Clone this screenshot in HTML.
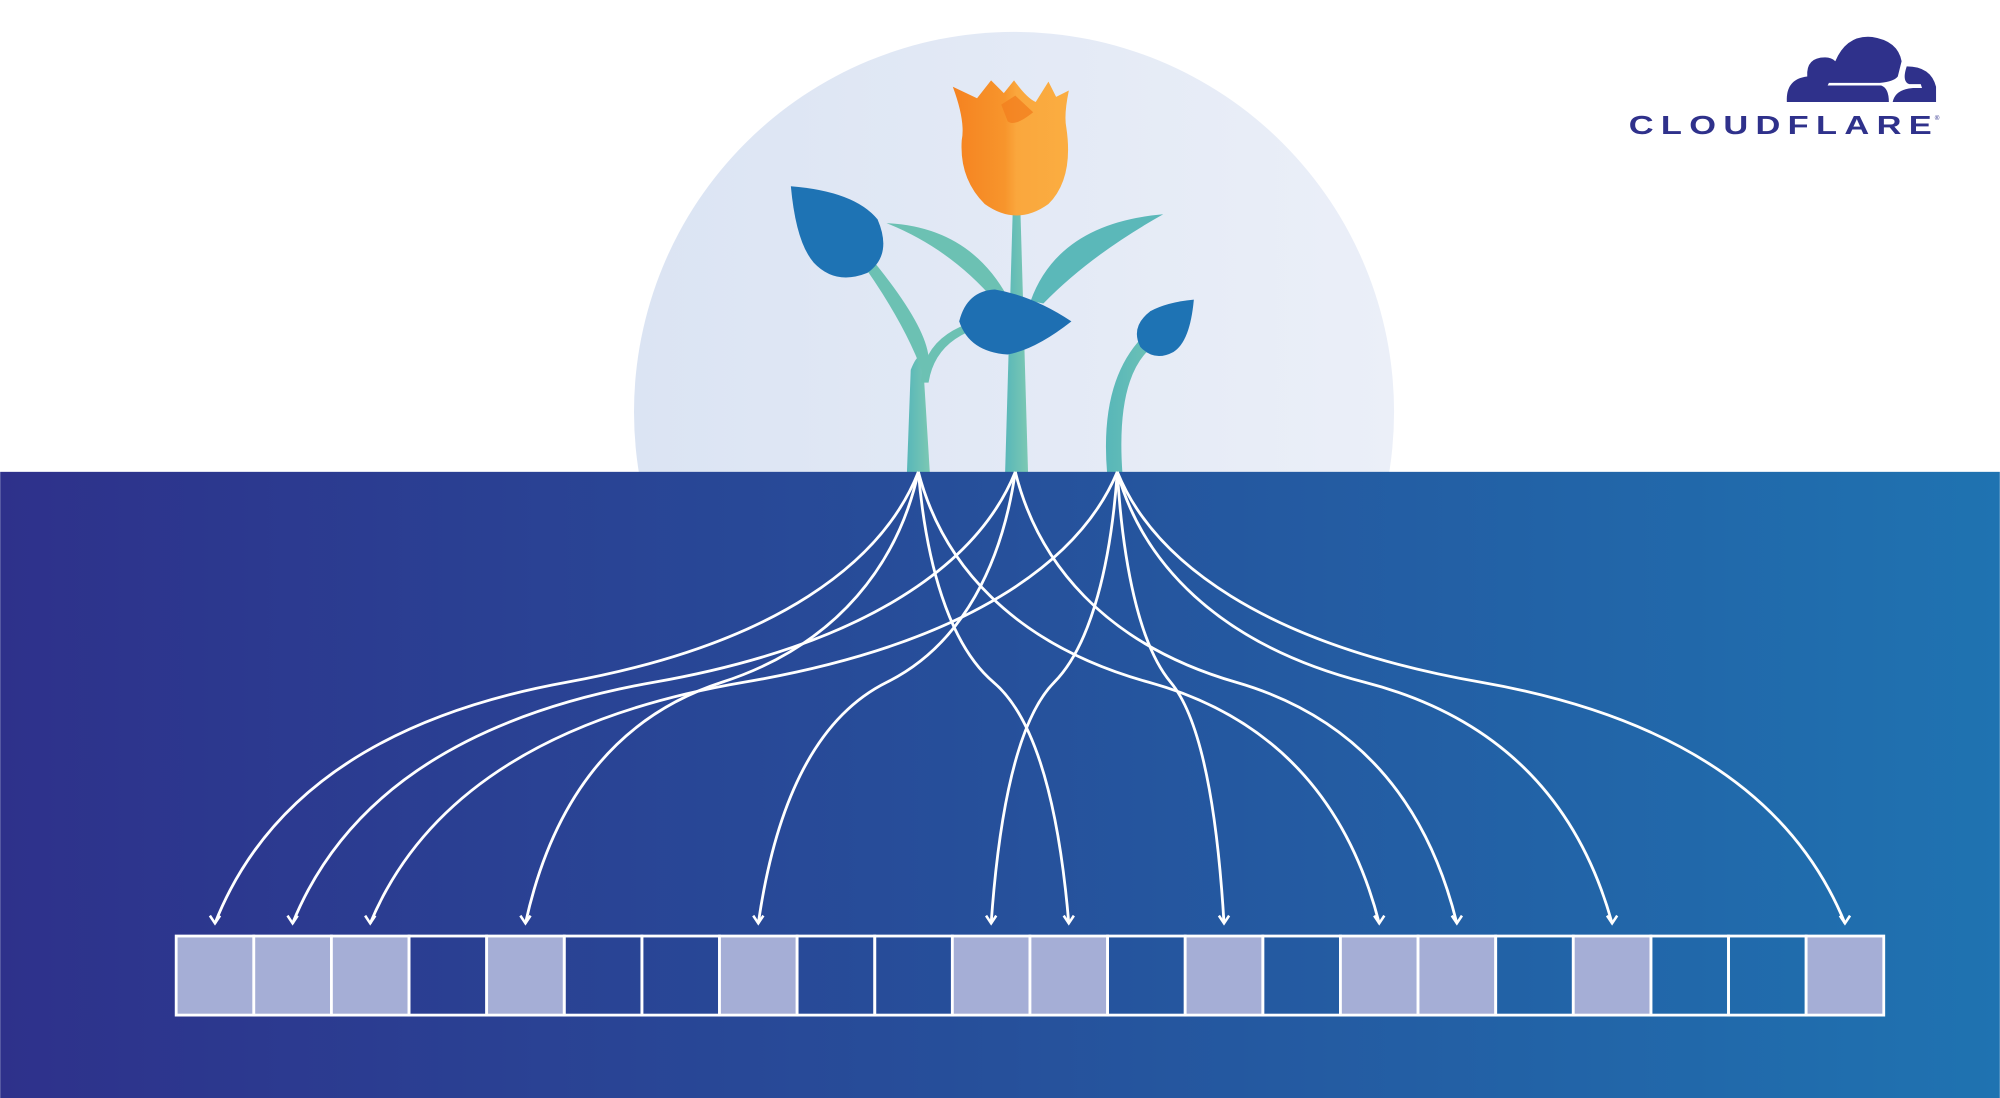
<!DOCTYPE html>
<html><head><meta charset="utf-8"><style>
html,body{margin:0;padding:0;background:#fff;}
svg{display:block;}
</style></head><body>
<svg id="chart" width="2000" height="1098" viewBox="0 0 1568 861" xmlns="http://www.w3.org/2000/svg">
<defs>
<linearGradient id="bg" x1="0" x2="1" y1="0" y2="0"><stop offset="0" stop-color="#2e318b"/><stop offset="0.5" stop-color="#26509b"/><stop offset="1" stop-color="#1f73b1"/></linearGradient>
<linearGradient id="circ" x1="0" x2="1"><stop offset="0" stop-color="#dbe4f3"/><stop offset="1" stop-color="#ebeff8"/></linearGradient>
<linearGradient id="tul" x1="0" x2="1"><stop offset="0" stop-color="#f58220"/><stop offset="0.45" stop-color="#f7952c"/><stop offset="0.55" stop-color="#faa73d"/><stop offset="1" stop-color="#fbad41"/></linearGradient>
<linearGradient id="teal" x1="0" x2="1"><stop offset="0" stop-color="#58b7b9"/><stop offset="1" stop-color="#7cc8b3"/></linearGradient>
</defs>
<rect x="0" y="0" width="1568" height="861" fill="#fff"/>
<circle cx="795" cy="323" r="298" fill="url(#circ)"/>
<g>
<path d="M794,165 L800,165 L806,371 L788,371 Z" fill="url(#teal)"/>
<path d="M714,290 Q722,270 724,290 L729,371 L711,371 Z" fill="url(#teal)"/>
<path d="M726,300 Q710,250 660,185 L668,185 Q725,250 728,280 Z" fill="#6cc1b3"/>
<path d="M868,371 Q862,300 895,265 L930,240 L900,275 Q875,300 880,371 Z" fill="url(#teal)"/>
<path d="M722,300 Q725,250 800,247 L800,252 Q735,255 728,300 Z" fill="#6cc1b3"/>
<path d="M695,175 Q760,178 790,233 L780,236 Q745,195 695,175 Z" fill="#6cc1b3"/>
<path d="M912,168 Q830,175 808,236 L818,238 Q855,200 912,168 Z" fill="#5bb8b9"/>
<path d="M620,146 Q670,150 688,172 Q700,200 680,214 Q655,224 638,206 Q624,190 620,146 Z" fill="#1e73b4"/>
<path d="M840,252 Q810,232 780,227 Q758,228 752,252 Q760,276 790,278 Q812,274 840,252 Z" fill="#1e6fb2"/>
<path d="M936,235 Q933,268 920,276 Q905,284 894,272 Q886,256 902,244 Q915,237 936,235 Z" fill="#1e73b4"/>
<path d="M747,68 L766,77 L777,63 L787,73 L795,63 Q805,77 812,80 L822,64 L828,76 L838,71 Q834,90 836,100 Q842,140 822,160 Q797,178 772,160 Q752,140 754,110 Q757,95 747,68 Z" fill="url(#tul)"/>
<path d="M785,82 L796,75 L810,88 Q795,100 790,95 Z" fill="#f2801f" opacity="0.8"/>
</g>
<rect x="0" y="370" width="1568" height="491" fill="url(#bg)"/>
<g id="arrows"></g>
<g id="cells"></g>
<g>
<path d="M1401,80 Q1400,62 1417,60 Q1416,45 1431,45 Q1436,45 1439,48 Q1448,27 1468,29 Q1488,32 1491,48 L1488,60 Q1485,64 1474,65 L1434,65 L1433,67 L1475,67 Q1481,69 1481,80 Z" fill="#2f318b"/>
<path d="M1484,80 Q1486,70 1500,69 L1507,69 L1506,66 L1497,66 Q1491,64 1495,52 Q1514,52 1518,68 L1518,80 Z" fill="#2f318b"/>
<g transform="translate(1277,105) scale(1.35,1)">
<text x="0" y="0" font-family="Liberation Sans, sans-serif" font-weight="bold" font-size="20" fill="#2f318b" textLength="176" lengthAdjust="spacing">CLOUDFLARE</text>
</g>
<text x="1517" y="94" font-family="Liberation Sans, sans-serif" font-size="5" fill="#2f318b">®</text>
</g>
</svg>
<script>
const bits = [1,1,1,0,1,0,0,1,0,0,1,1,0,1,0,1,1,0,1,0,0,1];
const sources = [720, 796, 876];
const arrowSource = [0, 1, 2, 0, 1, 2, 0, 2, 0, 1, 2, 2];
const arrowTarget = [0, 1, 2, 4, 7, 10, 11, 13, 15, 16, 18, 21];
const NS = 'http://www.w3.org/2000/svg';
const x0 = 138, x1 = 1477, yTop = 734, yBot = 796, srcY = 370;
const cw = (x1 - x0) / bits.length;
const cellX = i => x0 + i * cw;
const cellCx = i => x0 + (i + 0.5) * cw;
const cellsG = document.getElementById('cells');
bits.forEach((b, i) => {
  const r = document.createElementNS(NS, 'rect');
  r.setAttribute('x', cellX(i)); r.setAttribute('y', yTop);
  r.setAttribute('width', cw); r.setAttribute('height', yBot - yTop);
  r.setAttribute('fill', b ? '#a5aed6' : 'none');
  r.setAttribute('stroke', '#fff'); r.setAttribute('stroke-width', '2.2');
  
  
  cellsG.appendChild(r);
});
const arrowsG = document.getElementById('arrows');
arrowTarget.forEach((t, k) => {
  const sx = sources[arrowSource[k]];
  const tx = cellCx(t);
  const ty = 724;
  const dx = tx - sx;
  const midY = 535;
  const p = document.createElementNS(NS, 'path');
  const d = `M${sx},${srcY} C${sx + dx * 0.05},${srcY + 70} ${sx + dx * 0.2},${505} ${sx + dx * 0.5},${midY} S${tx - dx * 0.06},${640} ${tx},${ty}`;
  p.setAttribute('d', d);
  p.setAttribute('fill', 'none'); p.setAttribute('stroke', '#fff'); p.setAttribute('stroke-width', '2.2');
  
  
  arrowsG.appendChild(p);
  const h = document.createElementNS(NS, 'path');
  h.setAttribute('d', `M${tx - 4},${ty - 6} L${tx},${ty} L${tx + 4},${ty - 6}`);
  h.setAttribute('fill', 'none'); h.setAttribute('stroke', '#fff'); h.setAttribute('stroke-width', '2');
  
  
  arrowsG.appendChild(h);
});
</script>
</body></html>
